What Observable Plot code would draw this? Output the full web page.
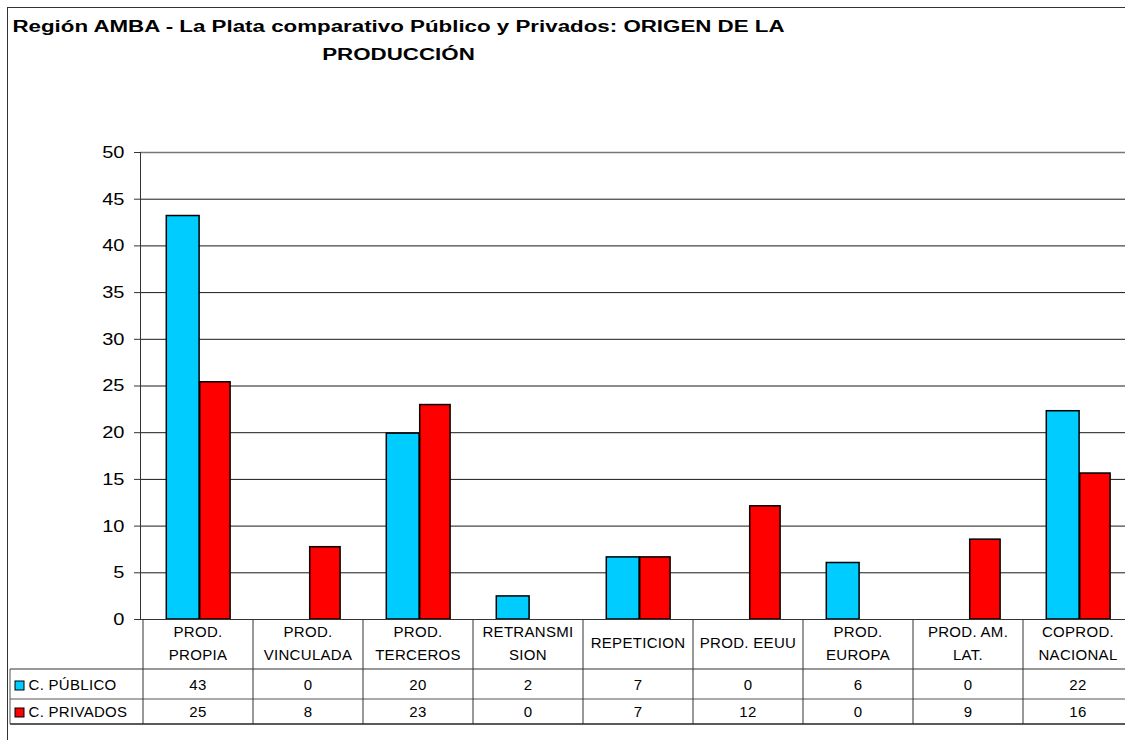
<!DOCTYPE html>
<html><head><meta charset="utf-8">
<script src="https://cdn.jsdelivr.net/npm/d3@7"></script>
<script src="https://cdn.jsdelivr.net/npm/@observablehq/plot@0.6"></script>
<style>
html,body{margin:0;padding:0;background:#fff}
body{overflow:hidden;width:1125px;height:740px;position:relative;font-family:Arial,"Liberation Sans",sans-serif}
#frame{position:absolute;left:7px;top:7px;width:1300px;height:900px;border-left:1.5px solid #333;border-top:1.5px solid #333}
#title{position:absolute;left:12px;top:13px;width:773px;text-align:center;font-weight:bold;font-size:16.8px;line-height:28px;color:#000;white-space:nowrap;transform:scaleX(1.33);transform-origin:386.5px 0}
#chart{position:absolute;left:0;top:140px;width:1140px}
#chart svg{max-width:none}
</style></head><body>
<div id="frame"></div>
<div id="title">Región AMBA - La Plata comparativo Público y Privados: ORIGEN DE LA<br>PRODUCCIÓN</div>
<div id="chart"></div>
<script>
const categorias = ["PROD. PROPIA","PROD. VINCULADA","PROD. TERCEROS","RETRANSMISION","REPETICION","PROD. EEUU","PROD. EUROPA","PROD. AM. LAT.","COPROD. NACIONAL"];
const etiquetas = [["PROD.","PROPIA"],["PROD.","VINCULADA"],["PROD.","TERCEROS"],["RETRANSMI","SION"],["REPETICION"],["PROD. EEUU"],["PROD.","EUROPA"],["PROD. AM.","LAT."],["COPROD.","NACIONAL"]];
const publico  = [43.2, 0, 19.9, 2.47, 6.65, 0, 6.05, 0, 22.3];
const privados = [25.4, 7.74, 22.96, 0, 6.65, 12.12, 0, 8.55, 15.63];
const publicoTabla  = [43, 0, 20, 2, 7, 0, 6, 0, 22];
const privadosTabla = [25, 8, 23, 0, 7, 12, 0, 9, 16];
const series = ["C. PÚBLICO", "C. PRIVADOS"];
const colores = ["#00CCFF", "#FF0000"];
const yTicks = [0, 5, 10, 15, 20, 25, 30, 35, 40, 45, 50];

const datosPub = categorias.map((c, i) => ({cat: c, v: publico[i]}));
const datosPriv = categorias.map((c, i) => ({cat: c, v: privados[i]}));

const W = 1140, H = 590;
const plot = Plot.plot({
  width: W, height: H,
  marginLeft: 140, marginRight: 4.5, marginTop: 12, marginBottom: 111,
  x: {domain: categorias, padding: 0, axis: null},
  y: {domain: [0, 50], label: null},
  style: {fontFamily: "Arial, 'Liberation Sans', sans-serif", fontSize: "17px", color: "#000", background: "transparent", overflow: "visible", maxWidth: "none"},
  marks: [
    Plot.ruleY(yTicks.filter(d => d > 0 && d < 50), {stroke: "#1a1a1a", strokeWidth: 1}),
    Plot.ruleY([50], {stroke: "#777", strokeWidth: 1.5}),
    Plot.barY(datosPub, {filter: d => d.v > 0, x: "cat", y: "v", fill: colores[0], stroke: "#000", strokeWidth: 1.5, insetLeft: 23.3, insetRight: 53.9}),
    Plot.barY(datosPriv, {filter: d => d.v > 0, x: "cat", y: "v", fill: colores[1], stroke: "#000", strokeWidth: 1.5, insetLeft: 56.7, insetRight: 22.9}),
    Plot.axisY({ticks: yTicks, tickSize: 6, tickPadding: 10, fontSize: 17, stroke: "#333", label: null}),
    Plot.frame({anchor: "left", stroke: "#333"}),
    Plot.ruleY([0], {stroke: "#333"})
  ]
});
plot.style.maxWidth = "none";
document.getElementById("chart").appendChild(plot);

// Stretch the y tick labels horizontally like the reference
d3.select(plot).selectAll("g[aria-label='y-axis tick label'] text").each(function() {
  const t = this.getAttribute("transform") || "";
  this.setAttribute("transform", t + " scale(1.18,1)");
});

// Data table below the chart, positioned with the plot's own scales
const xs = plot.scale("x");
const bw = xs.bandwidth;
const yBase = plot.scale("y").apply(0);
const rowTop1 = yBase + 50, rowTop2 = rowTop1 + 30, rowEnd = rowTop2 + 25;
const g = d3.select(plot).append("g").attr("class", "tabla");
const xLeft = xs.apply(categorias[0]);
const line = (x1, y1, x2, y2, c, w) => g.append("line").attr("x1", x1).attr("y1", y1).attr("x2", x2).attr("y2", y2).attr("stroke", c).attr("stroke-width", w);
line(10, rowTop1, W, rowTop1, "#333", 1);
line(10, rowTop2, W, rowTop2, "#555", 1);
line(10, rowEnd, W, rowEnd, "#222", 1.3);
line(10, rowTop1, 10, rowEnd, "#555", 1);
line(xLeft, yBase, xLeft, rowEnd, "#333", 1);
categorias.forEach(c => { const xe = xs.apply(c) + bw; line(xe, yBase, xe, rowEnd, "#333", 1); });

const txtStyle = sel => sel.attr("font-family", "Arial, 'Liberation Sans', sans-serif").attr("font-size", 15).attr("letter-spacing", "0.3px").attr("fill", "#000");
categorias.forEach((c, i) => {
  const xc = xs.apply(c) + bw / 2;
  const lines = etiquetas[i];
  const centers = lines.length === 2 ? [yBase + 13, yBase + 35.5] : [yBase + 24];
  lines.forEach((t, k) => {
    g.append("text").attr("x", xc).attr("y", centers[k] + 5.4).attr("text-anchor", "middle").text(t).call(txtStyle);
  });
  g.append("text").attr("x", xc).attr("y", rowTop1 + 16 + 5.4).attr("text-anchor", "middle").text(publicoTabla[i]).call(txtStyle);
  g.append("text").attr("x", xc).attr("y", rowTop2 + 13 + 5.4).attr("text-anchor", "middle").text(privadosTabla[i]).call(txtStyle);
});
series.forEach((s, k) => {
  const yc = k === 0 ? rowTop1 + 16 : rowTop2 + 13;
  g.append("rect").attr("x", 15).attr("y", yc - 4).attr("width", 9).attr("height", 9).attr("fill", colores[k]).attr("stroke", "#000").attr("stroke-width", 1);
  g.append("text").attr("x", 28.5).attr("y", yc + 5.4).attr("text-anchor", "start").text(s).call(txtStyle);
});
</script>
</body></html>
